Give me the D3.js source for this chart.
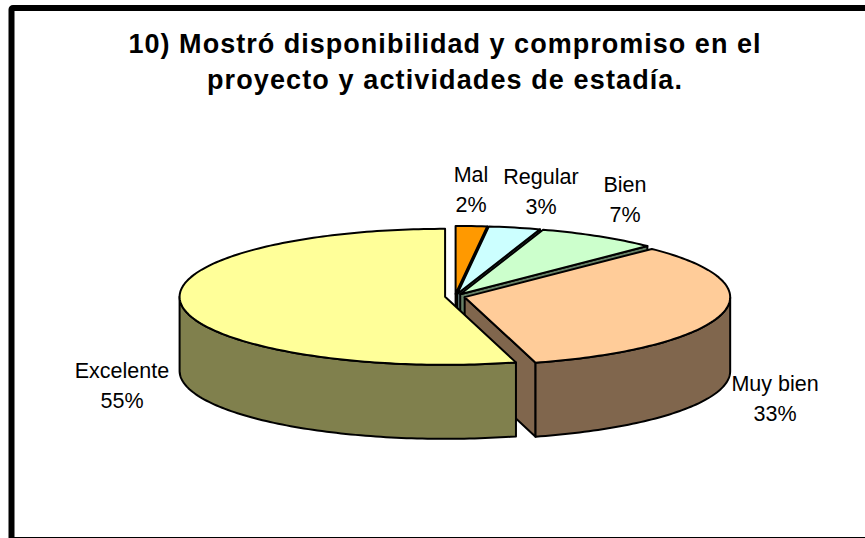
<!DOCTYPE html>
<html><head><meta charset="utf-8">
<script src="https://cdn.jsdelivr.net/npm/d3@7/dist/d3.min.js"></script>
<style>html,body{margin:0;padding:0;background:#fff;overflow:hidden}svg{display:block}</style>
</head><body><div id="chart"></div>
<script>
const titleLines = ["10) Mostró disponibilidad y compromiso en el", "proyecto y actividades de estadía."];
const categories = ["Mal", "Regular", "Bien", "Muy bien", "Excelente"];
const values = [1.9, 3.15, 7.4, 33.25, 54.3];
const percentLabels = ["2%", "3%", "7%", "33%", "55%"];
const topColors = ["#FF9900", "#CCFFFF", "#CCFFCC", "#FFCC99", "#FFFF99"];
const wallColors = ["#804D00", "#668080", "#668066", "#80664D", "#80804D"];

const W = 865, H = 538;
const svg = d3.select("#chart").append("svg").attr("width", W).attr("height", H);
svg.append("rect").attr("x", 11.5).attr("y", 8).attr("width", 900).attr("height", 532)
  .attr("rx", 1.5).attr("fill", "#fff").attr("stroke", "#000").attr("stroke-width", 6);

const title = svg.append("g").attr("font-family", "'Liberation Sans', Arial, sans-serif")
  .attr("font-weight", "bold").attr("font-size", 27).attr("fill", "#000").attr("text-anchor", "middle");
const titleBase = [52.5, 89];
const titleWidth = [632, 475];
titleLines.forEach((t, i) => title.append("text").attr("x", 444.5).attr("y", titleBase[i])
  .attr("textLength", titleWidth[i]).attr("lengthAdjust", "spacing").text(t));

// pie geometry
const cx = 455, cy = 296.5, rx = 265.5, ry = 68, depth = 74, explode = 10;
const arcs = d3.pie().sort(null).value(d => d)(values);
const line = d3.line().x(d => d[0]).y(d => d[1]);
const pt = (a, o, dz = 0) => [o[0] + rx * Math.sin(a), o[1] - ry * Math.cos(a) + dz];
const sweep = (a0, a1, o, dz = 0) => {
  const n = Math.max(2, Math.ceil((a1 - a0) / 0.02));
  return d3.range(n + 1).map(i => pt(a0 + (a1 - a0) * i / n, o, dz));
};
const g = svg.append("g").attr("stroke", "#000").attr("stroke-width", 2).attr("stroke-linejoin", "round");

arcs.forEach((d, i) => {
  const mid = (d.startAngle + d.endAngle) / 2;
  const o = [cx + explode * Math.sin(mid), cy - explode * (ry / rx) * Math.cos(mid)];
  const wall = (pts) => g.append("path").attr("d", line(pts) + "Z").attr("fill", wallColors[i]);
  // radial walls facing the viewer
  [d.startAngle, d.endAngle].forEach((a, k) => {
    const visible = k === 1 ? Math.sin(a) > 0 : Math.sin(a) < 0;
    if (visible) {
      const p = pt(a, o);
      wall([o, p, [p[0], p[1] + depth], [o[0], o[1] + depth]]);
    }
  });
  // outer rim wall (front half only)
  const a0 = Math.max(d.startAngle, Math.PI / 2), a1 = Math.min(d.endAngle, 3 * Math.PI / 2);
  if (a1 > a0) {
    wall(sweep(a0, a1, o).concat(sweep(a0, a1, o, depth).reverse()));
  }
  // top face
  g.append("path").attr("d", line([o].concat(sweep(d.startAngle, d.endAngle, o))) + "Z")
    .attr("fill", topColors[i]);
});

const labelAnchors = [[471, 182], [541, 184], [625, 192], [775, 391], [122, 378]];
const labels = svg.append("g").attr("font-family", "'Liberation Sans', Arial, sans-serif")
  .attr("font-size", 21.5).attr("fill", "#000").attr("text-anchor", "middle");
categories.forEach((c, i) => {
  const [x, y] = labelAnchors[i];
  labels.append("text").attr("x", x).attr("y", y).text(c);
  labels.append("text").attr("x", x).attr("y", y + 30).text(percentLabels[i]);
});
</script></body></html>
